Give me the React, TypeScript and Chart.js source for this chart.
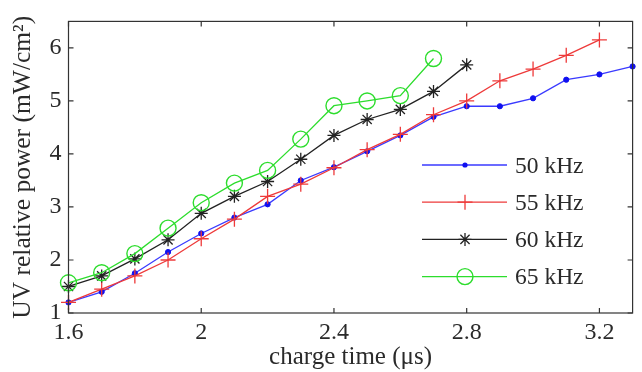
import { useEffect, useRef } from "react";
import { Chart, registerables } from "chart.js";
Chart.register(...registerables);

const chargeTime = [1.6, 1.7, 1.8, 1.9, 2.0, 2.1, 2.2, 2.3, 2.4, 2.5, 2.6, 2.7, 2.8, 2.9, 3.0, 3.1, 3.2, 3.3];
const kHz50 = [1.2, 1.4, 1.75, 2.15, 2.5, 2.8, 3.05, 3.5, 3.75, 4.05, 4.35, 4.7, 4.9, 4.9, 5.05, 5.4, 5.5, 5.65];
const kHz55 = [1.2, 1.45, 1.7, 2.0, 2.4, 2.77, 3.2, 3.43, 3.74, 4.08, 4.37, 4.74, 5.0, 5.38, 5.6, 5.86, 6.15];
const kHz60 = [1.5, 1.7, 2.02, 2.38, 2.88, 3.2, 3.48, 3.9, 4.35, 4.65, 4.84, 5.18, 5.68];
const kHz65 = [1.57, 1.76, 2.12, 2.6, 3.08, 3.45, 3.69, 4.28, 4.91, 5.0, 5.1, 5.8];
const seriesLabels = ["50 kHz", "55 kHz", "60 kHz", "65 kHz"];
const xTicks = [1.6, 2.0, 2.4, 2.8, 3.2];
const yTicks = [1, 2, 3, 4, 5, 6];
const xTitle = "charge time (\u03bcs)";
const yTitle = "UV relative power (mW/cm\u00b2)";

const FONT = "'Liberation Serif', 'Times New Roman', serif";
const TEXT = "#2a2a2a";

function toPoints(vals: number[]) {
  return vals.map((v, i) => ({ x: chargeTime[i], y: v }));
}

function drawMarker(ctx: CanvasRenderingContext2D, style: string, x: number, y: number, r: number, color: string, lw: number) {
  ctx.save();
  ctx.strokeStyle = color;
  ctx.fillStyle = color;
  ctx.lineWidth = lw;
  ctx.beginPath();
  if (style === "circle-fill") {
    ctx.arc(x, y, r, 0, Math.PI * 2);
    ctx.fill();
  } else if (style === "circle") {
    ctx.arc(x, y, r, 0, Math.PI * 2);
    ctx.stroke();
  } else if (style === "cross") {
    ctx.moveTo(x - r, y); ctx.lineTo(x + r, y);
    ctx.moveTo(x, y - r); ctx.lineTo(x, y + r);
    ctx.stroke();
  } else if (style === "star") {
    ctx.moveTo(x - r, y); ctx.lineTo(x + r, y);
    ctx.moveTo(x, y - r); ctx.lineTo(x, y + r);
    const d = r * Math.SQRT1_2;
    ctx.moveTo(x - d, y - d); ctx.lineTo(x + d, y + d);
    ctx.moveTo(x - d, y + d); ctx.lineTo(x + d, y - d);
    ctx.stroke();
  }
  ctx.restore();
}

const legendStyles = [
  { style: "circle-fill", r: 2.6 },
  { style: "cross", r: 7.5 },
  { style: "star", r: 6.5 },
  { style: "circle", r: 8 },
];

const boxPlugin = {
  id: "matlabBox",
  afterDraw(chart: any) {
    const { ctx, chartArea } = chart;
    const { left, right, top, bottom } = chartArea;
    const xs = chart.scales.x;
    const ys = chart.scales.y;
    ctx.save();
    ctx.strokeStyle = "#333";
    ctx.lineWidth = 1.2;
    ctx.strokeRect(left, top, right - left, bottom - top);
    ctx.beginPath();
    const tl = 5;
    xTicks.forEach((v) => {
      const px = xs.getPixelForValue(v);
      ctx.moveTo(px, bottom); ctx.lineTo(px, bottom - tl);
      ctx.moveTo(px, top); ctx.lineTo(px, top + tl);
    });
    yTicks.forEach((v) => {
      const py = ys.getPixelForValue(v);
      ctx.moveTo(left, py); ctx.lineTo(left + tl, py);
      ctx.moveTo(right, py); ctx.lineTo(right - tl, py);
    });
    ctx.stroke();

    // legend
    const x0 = 422, x1 = 507, xm = 465, tx = 515;
    const y0 = 165, dy = 37.2;
    chart.data.datasets.forEach((ds: any, i: number) => {
      const y = y0 + i * dy;
      ctx.strokeStyle = ds.borderColor;
      ctx.lineWidth = ds.borderWidth;
      ctx.beginPath();
      ctx.moveTo(x0, y); ctx.lineTo(x1, y);
      ctx.stroke();
      const ls = legendStyles[i];
      drawMarker(ctx, ls.style, xm, y, ls.r, ds.pointBorderColor, ds.pointBorderWidth);
      ctx.fillStyle = TEXT;
      ctx.font = `23.5px ${FONT}`;
      ctx.textAlign = "left";
      ctx.textBaseline = "middle";
      ctx.fillText(ds.label, tx, y + 1.5);
    });
    ctx.restore();
  },
};

export default function App() {
  const ref = useRef<HTMLCanvasElement>(null);
  useEffect(() => {
    document.body.style.margin = "0";
    const canvas = ref.current!;
    const blue = "#3a3aff";
    const red = "#ee3a3a";
    const black = "#222222";
    const green = "#2ddd2d";
    const chart = new Chart(canvas, {
      type: "line",
      data: {
        datasets: [
          {
            label: seriesLabels[0], data: toPoints(kHz50), borderColor: blue, borderWidth: 1.3,
            pointStyle: "circle", pointRadius: 2.6, pointBackgroundColor: "#1010f0", pointBorderColor: "#1010f0", pointBorderWidth: 1,
            order: 3, clip: false, tension: 0,
          },
          {
            label: seriesLabels[1], data: toPoints(kHz55), borderColor: red, borderWidth: 1.3,
            pointStyle: "cross", pointRadius: 7.5, pointBorderColor: red, pointBorderWidth: 1.3,
            order: 2, clip: false, tension: 0,
          },
          {
            label: seriesLabels[2], data: toPoints(kHz60), borderColor: black, borderWidth: 1.3,
            pointStyle: "star", pointRadius: 6.5, pointBorderColor: black, pointBorderWidth: 1.3,
            order: 1, clip: false, tension: 0,
          },
          {
            label: seriesLabels[3], data: toPoints(kHz65), borderColor: green, borderWidth: 1.3,
            pointStyle: "circle", pointRadius: 8, pointBackgroundColor: "rgba(0,0,0,0)", pointBorderColor: green, pointBorderWidth: 1.4,
            order: 0, clip: false, tension: 0,
          },
        ] as any,
      },
      options: {
        responsive: false,
        animation: false,
        events: [],
        layout: { padding: { left: 0, right: 6, top: 15, bottom: 0 } },
        plugins: { legend: { display: false }, tooltip: { enabled: false } },
        scales: {
          x: {
            type: "linear",
            min: 1.6,
            max: 3.3,
            grid: { display: false, drawTicks: false },
            border: { display: false },
            afterBuildTicks: (s: any) => { s.ticks = xTicks.map((v) => ({ value: v })); },
            afterFit: (s: any) => { s.height = 59; },
            ticks: {
              padding: 5,
              color: TEXT,
              font: { family: FONT, size: 24 },
              maxRotation: 0,
              autoSkip: false,
              callback: (v: any) => String(Math.round(Number(v) * 10) / 10),
            },
            title: {
              display: true,
              text: xTitle,
              color: TEXT,
              font: { family: FONT, size: 25 },
              padding: { top: 0, bottom: 0 },
            },
          },
          y: {
            type: "linear",
            min: 1,
            max: 6.5,
            grid: { display: false, drawTicks: false },
            border: { display: false },
            afterBuildTicks: (s: any) => { s.ticks = yTicks.map((v) => ({ value: v })); },
            afterFit: (s: any) => { s.width = 68.5; },
            ticks: {
              padding: 7,
              color: TEXT,
              font: { family: FONT, size: 24 },
              autoSkip: false,
              callback: (v: any) => String(v),
            },
            title: {
              display: true,
              text: yTitle,
              color: TEXT,
              font: { family: FONT, size: 25.5 },
              padding: { top: 8, bottom: 0 },
            },
          },
        },
      },
      plugins: [boxPlugin],
    });
    return () => chart.destroy();
  }, []);
  return <canvas ref={ref} width={642} height={372} style={{ display: "block" }} />;
}
